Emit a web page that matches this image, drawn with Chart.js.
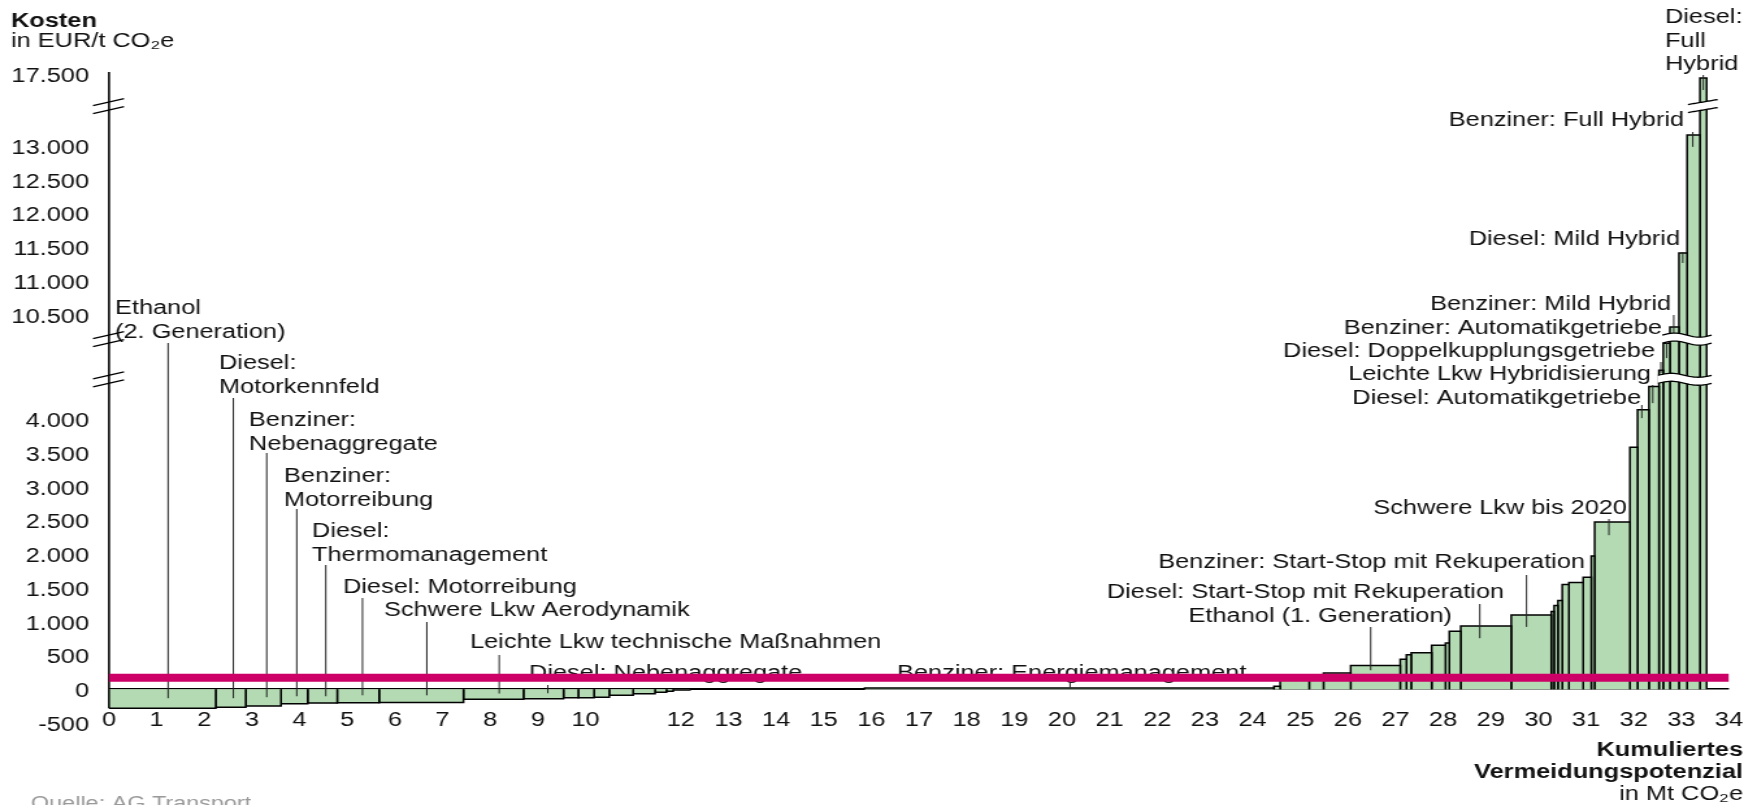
<!DOCTYPE html>
<html lang="de">
<head>
<meta charset="UTF-8">
<title>Vermeidungskosten Verkehr</title>
<script src="https://cdn.jsdelivr.net/npm/chart.js@4"></script>
<style>
  html, body { margin: 0; padding: 0; background: #fff; overflow: hidden; }
  /* the original graphic is stretched sideways, so the canvas is too */
  #wrap { width: 1352px; height: 805px; transform: scaleX(1.29956); transform-origin: 0 0; }
</style>
</head>
<body>
<div id="wrap"><canvas id="chart" width="1352" height="805"></canvas></div>
<script>
// bar widths (Mt CO2e) and costs (EUR/t CO2e), left to right
const widths = [2.24, 0.63, 0.74, 0.56, 0.62, 0.88, 1.77, 1.26, 0.84, 0.31, 0.33, 0.32, 0.50, 0.46,
  0.24, 0.14, 0.35, 3.67, 8.59, 0.13, 0.61, 0.30, 0.57, 1.04, 0.13, 0.10, 0.43, 0.29, 0.08, 0.24,
  1.06, 0.84, 0.06, 0.08, 0.09, 0.14, 0.30, 0.17, 0.07, 0.74, 0.16, 0.24, 0.21, 0.09, 0.14, 0.19,
  0.17, 0.27, 0.14];
const costs = [-280, -265, -250, -215, -205, -200, -195, -150, -140, -125, -125, -120, -90, -65,
  -45, -30, -12, 0, 20, 45, 190, 205, 240, 350, 445, 510, 540, 650, 685, 860,
  935, 1100, 1150, 1240, 1315, 1550, 1580, 1660, 1975, 2475, 3585, 4140, 4485, 5070, 10150, 10320,
  11415, 13160, 17440];
const referenceCost = 170;

const xTicks = [0, 1, 2, 3, 4, 5, 6, 7, 8, 9, 10, 12, 13, 14, 15, 16, 17, 18, 19, 20, 21, 22, 23,
  24, 25, 26, 27, 28, 29, 30, 31, 32, 33, 34];
const yTicks = [-500, 0, 500, 1000, 1500, 2000, 2500, 3000, 3500, 4000,
  10500, 11000, 11500, 12000, 12500, 13000, 17500];

// broken y axis: each value range gets its own stretch of a plain linear scale
const ySegments = [
  { v0: -500, v1: 4500, d0: -500, d1: 4500 },
  { v0: 4500, v1: 10200, d0: 4681, d1: 5126 },
  { v0: 10200, v1: 13500, d0: 5244, d1: 8548 },
  { v0: 17115, v1: 17530, d0: 8726, d1: 9141 }
];
function toD(v) {
  for (const s of ySegments) {
    if (v <= s.v1) {
      const c = Math.max(v, s.v0);
      return s.d0 + (c - s.v0) * (s.d1 - s.d0) / (s.v1 - s.v0);
    }
  }
  return ySegments[ySegments.length - 1].d1;
}
const fmt = v => String(v).replace(/\B(?=(\d{3})+(?!\d))/g, '.');

const S = 1757 / 1352;
const FAMILY = 'Arial, "Liberation Sans", sans-serif';
const INK = '#111';

// label text, its place (px of the 1757 wide picture), leader x (Mt), leader top (px), leader end (EUR/t)
const callouts = [
  { text: ['Ethanol', '(2. Generation)'], x: 115, y: 309, align: 'left', at: 1.24, from: 343, to: -133 },
  { text: ['Diesel:', 'Motorkennfeld'], x: 219, y: 364, align: 'left', at: 2.61, from: 398, to: -133 },
  { text: ['Benziner:', 'Nebenaggregate'], x: 249, y: 421, align: 'left', at: 3.31, from: 453, to: -118 },
  { text: ['Benziner:', 'Motorreibung'], x: 284, y: 477, align: 'left', at: 3.94, from: 509, to: -104 },
  { text: ['Diesel:', 'Thermomanagement'], x: 312, y: 532, align: 'left', at: 4.55, from: 565, to: -104 },
  { text: ['Diesel: Motorreibung'], x: 343, y: 588, align: 'left', at: 5.32, from: 598, to: -90 },
  { text: ['Schwere Lkw Aerodynamik'], x: 384, y: 611, align: 'left', at: 6.67, from: 622, to: -90 },
  { text: ['Leichte Lkw technische Maßnahmen'], x: 470, y: 643, align: 'left', at: 8.19, from: 655, to: -64 },
  { text: ['Diesel: Nebenaggregate'], x: 529, y: 674, align: 'left', at: 9.21, from: 685, to: -60 },
  { text: ['Benziner: Energiemanagement'], x: 897, y: 674, align: 'left', at: 20.17, from: 682, to: 25 },
  { text: ['Ethanol (1. Generation)'], x: 1452, y: 617, align: 'right', at: 26.48, from: 627, to: 281 },
  { text: ['Diesel: Start-Stop mit Rekuperation'], x: 1504, y: 593, align: 'right', at: 28.77, from: 604, to: 756 },
  { text: ['Benziner: Start-Stop mit Rekuperation'], x: 1585, y: 563, align: 'right', at: 29.75, from: 575, to: 923 },
  { text: ['Schwere Lkw bis 2020'], x: 1627, y: 509, align: 'right', at: 31.48, from: 519, to: 2281 },
  { text: ['Diesel: Automatikgetriebe'], x: 1641, y: 399, align: 'right', at: 32.17, from: 405, to: 4015 },
  { text: ['Leichte Lkw Hybridisierung'], x: 1651, y: 375, align: 'right', at: 32.40, from: 385, to: 4237 },
  { text: ['Diesel: Doppelkupplungsgetriebe'], x: 1655, y: 352, align: 'right', at: 32.57, from: 362, to: 4550 },
  { text: ['Benziner: Automatikgetriebe'], x: 1662, y: 329, align: 'right', at: 32.69, from: 343, to: 7356 },
  { text: ['Benziner: Mild Hybrid'], x: 1671, y: 305, align: 'right', at: 32.84, from: 315, to: 10230 },
  { text: ['Diesel: Mild Hybrid'], x: 1680, y: 240, align: 'right', at: 33.03, from: 252, to: 11267 },
  { text: ['Benziner: Full Hybrid'], x: 1684, y: 121, align: 'right', at: 33.24, from: 132, to: 12985 },
  { text: ['Diesel:', 'Full', 'Hybrid'], x: 1665, y: 18, align: 'left', at: 33.46, from: 75, to: 17263 }
];

// one closed outline per measure
const datasets = [{
  data: [{ x: 0, y: toD(referenceCost) }, { x: 34, y: toD(referenceCost) }],
  borderColor: '#cc0066', borderWidth: 8, pointRadius: 0, fill: false, order: 0
}];
let left = 0;
widths.forEach((w, i) => {
  const d = toD(costs[i]);
  datasets.push({
    data: [{ x: left, y: 0 }, { x: left, y: d }, { x: left + w, y: d }, { x: left + w, y: 0 }],
    borderColor: '#000', borderWidth: 1.5, backgroundColor: '#b3dab3',
    fill: 'origin', pointRadius: 0, tension: 0, order: 1
  });
  left += w;
});

const decorations = {
  id: 'decorations',
  beforeDatasetsDraw(chart) {
    // y axis line stops at the lowest bar, as in the original
    const { ctx, chartArea, scales: { y } } = chart;
    ctx.save();
    ctx.strokeStyle = '#000';
    ctx.lineWidth = 1.6;
    ctx.beginPath();
    ctx.moveTo(chartArea.left, chartArea.top);
    ctx.lineTo(chartArea.left, y.getPixelForValue(toD(Math.min(...costs))));
    ctx.stroke();
    ctx.restore();
  },
  beforeDatasetDraw(chart, args) {
    if (args.index !== 0) return; // labels go under the red line
    const { ctx, scales: { x, y } } = chart;
    ctx.save();
    ctx.font = `19.5px ${FAMILY}`;
    ctx.fillStyle = INK;
    ctx.strokeStyle = '#222';
    ctx.lineWidth = 1;
    ctx.textBaseline = 'middle';
    callouts.forEach(c => {
      ctx.textAlign = c.align;
      c.text.forEach((t, i) => ctx.fillText(t, c.x / S, c.y + i * 23.3));
      const px = x.getPixelForValue(c.at);
      ctx.beginPath();
      ctx.moveTo(px, c.from);
      ctx.lineTo(px, y.getPixelForValue(toD(c.to)));
      ctx.stroke();
    });
    ctx.restore();
  },
  afterDatasetsDraw(chart) {
    const { ctx, chartArea, scales: { x, y } } = chart;
    ctx.save();
    const edges = [0];
    widths.forEach(w => edges.push(edges[edges.length - 1] + w));

    for (let k = 0; k < ySegments.length - 1; k++) {
      const lo = y.getPixelForValue(ySegments[k].d1);
      const hi = y.getPixelForValue(ySegments[k + 1].d0);
      const c = (lo + hi) / 2;
      ctx.strokeStyle = '#000';
      ctx.lineWidth = 1.3;
      [-4, 4].forEach(o => {
        ctx.beginPath();
        ctx.moveTo(chartArea.left - 16 / S, c + o + 3.5);
        ctx.lineTo(chartArea.left + 15 / S, c + o - 3.5);
        ctx.stroke();
      });

      const idx = costs.map((v, i) => (toD(v) > ySegments[k].d1 - 10 ? i : -1)).filter(i => i >= 0);
      if (!idx.length) continue;
      const straight = k === ySegments.length - 2;
      const x0 = x.getPixelForValue(edges[idx[0]]) - (straight ? 12 : 1) / S;
      const x1 = x.getPixelForValue(edges[idx[idx.length - 1] + 1]) + (straight ? 11 : 5) / S;
      const n = 24;
      const edgeY = (t, off) => straight ? c + off + 2.5 - 5 * t : c + off - 2 * Math.sin(t * 2 * Math.PI);

      ctx.beginPath();
      for (let i = 0; i <= n; i++) {
        const t = i / n;
        const px = x0 + (x1 - x0) * t;
        if (i === 0) ctx.moveTo(px, edgeY(t, -4)); else ctx.lineTo(px, edgeY(t, -4));
      }
      for (let i = n; i >= 0; i--) {
        const t = i / n;
        ctx.lineTo(x0 + (x1 - x0) * t, edgeY(t, 4));
      }
      ctx.closePath();
      ctx.fillStyle = '#fff';
      ctx.fill();
      [-4, 4].forEach(off => {
        ctx.beginPath();
        for (let i = 0; i <= n; i++) {
          const t = i / n;
          const px = x0 + (x1 - x0) * t;
          if (i === 0) ctx.moveTo(px, edgeY(t, off)); else ctx.lineTo(px, edgeY(t, off));
        }
        ctx.stroke();
      });
    }

    // axis titles and source
    ctx.fillStyle = INK;
    ctx.textBaseline = 'middle';
    ctx.textAlign = 'left';
    ctx.font = `bold 19.5px ${FAMILY}`;
    ctx.fillText('Kosten', 11 / S, 22);
    ctx.font = `19.5px ${FAMILY}`;
    ctx.fillText('in EUR/t CO₂e', 11 / S, 42);
    ctx.textAlign = 'right';
    ctx.font = `bold 19.5px ${FAMILY}`;
    ctx.fillText('Kumuliertes', 1743 / S, 751);
    ctx.fillText('Vermeidungspotenzial', 1743 / S, 773);
    ctx.font = `19.5px ${FAMILY}`;
    ctx.fillText('in Mt CO₂e', 1743 / S, 795);
    ctx.textAlign = 'left';
    ctx.textBaseline = 'alphabetic';
    ctx.fillStyle = '#999';
    ctx.font = `18px ${FAMILY}`;
    ctx.fillText('Quelle: AG Transport', 31 / S, 809);
    ctx.restore();
  }
};

Chart.defaults.font.family = FAMILY;
Chart.defaults.font.size = 19.5;
Chart.defaults.color = INK;

new Chart(document.getElementById('chart'), {
  type: 'line',
  data: { datasets },
  plugins: [decorations],
  options: {
    responsive: false,
    devicePixelRatio: 1,
    animation: false,
    events: [],
    layout: { padding: { top: 72, bottom: 82, left: 0, right: 1352 - 1729 / S } },
    plugins: { legend: { display: false }, tooltip: { enabled: false } },
    scales: {
      x: {
        type: 'linear',
        min: 0,
        max: 34,
        position: { y: -290 },
        afterBuildTicks: s => { s.ticks = xTicks.map(v => ({ value: v })); },
        ticks: { autoSkip: false, maxRotation: 0, padding: 0 },
        grid: { display: false, drawTicks: false },
        border: { display: false }
      },
      y: {
        type: 'linear',
        min: -500,
        max: toD(17530),
        afterFit: s => { s.width = 109 / S; },
        afterBuildTicks: s => { s.ticks = yTicks.map(v => ({ value: toD(v) })); },
        ticks: { autoSkip: false, padding: 20 / S, labelOffset: 2.5, callback: (v, i) => fmt(yTicks[i]) },
        grid: {
          drawTicks: false,
          lineWidth: 1.5,
          color: c => (c.tick && c.tick.value === 0 ? '#000' : 'rgba(0,0,0,0)')
        },
        border: { display: false }
      }
    }
  }
});
</script>
</body>
</html>
